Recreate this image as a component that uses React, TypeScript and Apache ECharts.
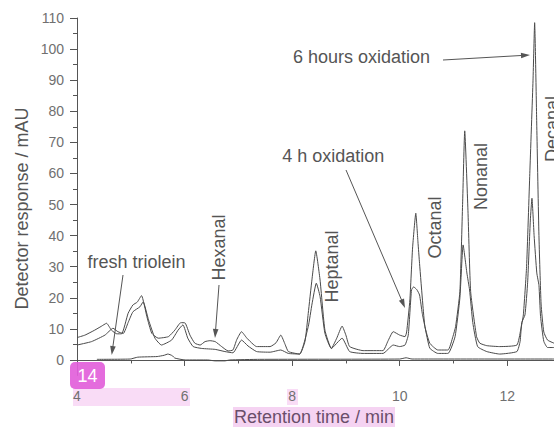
import React, { useEffect, useRef } from "react";
import * as echarts from "echarts";

// ---- data (retention time / min, detector response / mAU) ----
const freshTriolein: [number, number][] = [
  [4.37, 0.2], [4.99, 0.3], [5.13, 0.9], [5.49, 1.1], [5.62, 1.5], [5.69, 1.9], [5.77, 1.4],
  [5.82, 0.6], [6.01, 0.0], [6.43, 0.0], [6.57, -0.3], [6.75, -0.3], [6.84, 0.0], [7.4, 0.2],
  [10.0, 0.3], [10.12, 0.7], [10.23, 0.3], [12.87, 0.3],
];

const oxidation4h: [number, number][] = [
  [4.0, 4.8], [4.27, 5.9], [4.52, 8.0], [4.67, 10.2], [4.76, 9.1], [4.86, 8.5], [4.95, 12.0],
  [5.04, 15.5], [5.17, 17.1], [5.23, 18.7], [5.33, 12.9], [5.45, 7.0], [5.57, 4.8], [5.76, 6.4],
  [5.88, 9.6], [5.97, 11.3], [6.06, 7.0], [6.16, 4.3], [6.32, 3.7], [6.57, 3.4], [6.75, 2.7],
  [6.9, 2.3], [7.06, 6.4], [7.18, 4.5], [7.34, 2.7], [7.59, 2.5], [7.79, 3.2], [7.93, 2.1],
  [8.14, 1.9], [8.3, 10.7], [8.37, 18.0], [8.45, 24.7], [8.52, 20.4], [8.61, 8.6], [8.73, 3.7],
  [8.93, 7.0], [9.07, 2.7], [9.32, 2.1], [9.69, 2.1], [9.88, 4.8], [10.0, 4.3], [10.1, 4.8],
  [10.16, 8.0], [10.22, 22.5], [10.26, 23.5], [10.32, 22.6], [10.37, 20.9], [10.42, 15.0],
  [10.47, 10.7], [10.56, 3.8], [10.71, 2.1], [10.9, 2.1], [11.03, 7.5], [11.12, 20.0],
  [11.18, 37.0], [11.25, 28.0], [11.3, 22.5], [11.36, 12.0], [11.45, 4.3], [11.62, 2.7],
  [11.86, 1.9], [12.18, 2.7], [12.24, 6.0], [12.27, 12.0], [12.33, 14.5], [12.38, 25.0],
  [12.43, 45.0], [12.46, 52.0], [12.5, 40.0], [12.55, 28.0], [12.59, 24.0], [12.62, 14.0],
  [12.68, 6.0], [12.75, 4.0], [12.87, 4.0],
];

const oxidation6h: [number, number][] = [
  [4.0, 7.2], [4.15, 8.0], [4.33, 9.6], [4.45, 10.8], [4.55, 11.8], [4.64, 9.6], [4.74, 8.4],
  [4.83, 8.4], [4.95, 15.0], [5.04, 17.7], [5.12, 18.6], [5.2, 20.7], [5.3, 13.9], [5.39, 8.6],
  [5.51, 7.0], [5.7, 7.5], [5.82, 9.6], [5.93, 12.0], [6.01, 11.9], [6.1, 8.0], [6.19, 5.4],
  [6.29, 4.8], [6.38, 5.9], [6.47, 6.2], [6.57, 5.9], [6.69, 4.3], [6.81, 2.9], [6.9, 3.2],
  [6.97, 6.5], [7.06, 9.1], [7.16, 7.0], [7.34, 4.3], [7.59, 4.3], [7.7, 5.5], [7.79, 8.0],
  [7.87, 5.0], [7.93, 2.7], [8.14, 1.9], [8.24, 6.0], [8.3, 15.0], [8.37, 26.0], [8.44, 35.1],
  [8.52, 25.7], [8.61, 9.6], [8.73, 3.7], [8.83, 7.0], [8.93, 10.9], [9.0, 8.0], [9.07, 4.3],
  [9.32, 3.0], [9.69, 3.0], [9.78, 6.0], [9.88, 9.1], [10.0, 8.0], [10.1, 7.5], [10.13, 9.0],
  [10.19, 19.3], [10.24, 36.0], [10.3, 47.2], [10.34, 38.0], [10.37, 31.0], [10.43, 18.0],
  [10.47, 10.7], [10.56, 5.4], [10.71, 3.2], [10.9, 3.2], [10.99, 7.5], [11.04, 10.7],
  [11.12, 22.0], [11.17, 50.0], [11.21, 73.7], [11.27, 48.0], [11.32, 22.0], [11.43, 7.5],
  [11.49, 5.4], [11.62, 4.6], [11.86, 4.3], [12.18, 4.8], [12.25, 9.6], [12.3, 14.5],
  [12.36, 30.0], [12.42, 60.0], [12.48, 90.0], [12.51, 108.5], [12.55, 75.0], [12.59, 40.0],
  [12.63, 18.0], [12.68, 9.0], [12.75, 6.4], [12.87, 5.4],
];

const xMajorTicks = [4, 6, 8, 10, 12];
const xMinorTicks = [5, 7, 9, 11];
const yMajorTicks = [0, 10, 20, 30, 40, 50, 60, 70, 80, 90, 100, 110];
const yMinorTicks = [5, 15, 25, 35, 45, 55, 65, 75, 85, 95, 105];

const FONT = '"Liberation Sans", Arial, Helvetica, sans-serif';
const INK = "#4a4a4a";
const TXT = "#555555";

function arrow(x1: number, y1: number, x2: number, y2: number) {
  const dx = x2 - x1;
  const dy = y2 - y1;
  const len = Math.sqrt(dx * dx + dy * dy);
  const ux = dx / len;
  const uy = dy / len;
  const L = 9;
  const W = 2.8;
  const bx = x2 - ux * L;
  const by = y2 - uy * L;
  return [
    {
      type: "line",
      shape: { x1, y1, x2: bx + ux * 2, y2: by + uy * 2 },
      style: { stroke: TXT, lineWidth: 1 },
      silent: true,
    },
    {
      type: "polygon",
      shape: {
        points: [
          [x2, y2],
          [bx - uy * W, by + ux * W],
          [bx + uy * W, by - ux * W],
        ],
      },
      style: { fill: TXT },
      silent: true,
    },
  ];
}

function label(text: string, x: number, y: number, vertical = false) {
  return {
    type: "text",
    x,
    y,
    rotation: vertical ? Math.PI / 2 : 0,
    silent: true,
    style: {
      text,
      font: `18px ${FONT}`,
      fill: TXT,
      align: "center",
      verticalAlign: "middle",
    },
  };
}

export default function App() {
  const ref = useRef<HTMLDivElement>(null);

  useEffect(() => {
    if (!ref.current) return;
    const chart = echarts.init(ref.current, undefined, { renderer: "svg" });

    const lineSeries = (name: string, data: [number, number][]) => ({
      name,
      type: "line",
      data,
      showSymbol: false,
      symbol: "none",
      smooth: 0.15,
      lineStyle: { color: INK, width: 1 },
      z: 3,
    });

    const axisLineStyle = { color: "#555", width: 1 };

    chart.setOption({
      animation: false,
      backgroundColor: "#ffffff",
      grid: { left: 77, right: 0, top: 18, bottom: 51.5, containLabel: false },
      xAxis: [
        {
          type: "value",
          min: 4,
          max: 12.87,
          position: "bottom",
          axisLine: { show: true, lineStyle: axisLineStyle },
          axisTick: { show: true, customValues: xMajorTicks, length: 6, lineStyle: axisLineStyle },
          axisLabel: {
            customValues: xMajorTicks,
            fontSize: 14,
            fontFamily: FONT,
            color: (v: number) => (v === 8 ? "#9a62a0" : "#707070"),
            margin: 13,
          },
          splitLine: { show: false },
        },
        {
          type: "value",
          min: 4,
          max: 12.87,
          position: "bottom",
          axisLine: { show: false },
          axisTick: { show: true, customValues: xMinorTicks, length: 3.5, lineStyle: axisLineStyle },
          axisLabel: { show: false },
          splitLine: { show: false },
        },
      ],
      yAxis: [
        {
          type: "value",
          min: -5,
          max: 110,
          position: "left",
          axisLine: { show: true, lineStyle: axisLineStyle },
          axisTick: { show: true, customValues: yMajorTicks, length: 7, lineStyle: axisLineStyle },
          axisLabel: {
            customValues: yMajorTicks,
            fontSize: 14,
            fontFamily: FONT,
            color: "#707070",
            margin: 13,
          },
          splitLine: { show: false },
        },
        {
          type: "value",
          min: -5,
          max: 110,
          position: "left",
          axisLine: { show: false },
          axisTick: { show: true, customValues: yMinorTicks, length: 4, lineStyle: axisLineStyle },
          axisLabel: { show: false },
          splitLine: { show: false },
        },
      ],
      series: [
        lineSeries("fresh triolein", freshTriolein),
        lineSeries("4 h oxidation", oxidation4h),
        lineSeries("6 hours oxidation", oxidation6h),
      ],
      graphic: [
        // highlight boxes (behind text)
        { type: "rect", z: -10, silent: true, shape: { x: 73, y: 388, width: 117, height: 18 }, style: { fill: "#f9dcf6" } },
        { type: "rect", z: -10, silent: true, shape: { x: 287, y: 389, width: 11, height: 16 }, style: { fill: "#f9dcf6" } },
        { type: "rect", z: -10, silent: true, shape: { x: 233, y: 407, width: 162, height: 20 }, style: { fill: "#f5d3f2" } },
        // axis titles
        {
          type: "text",
          x: 314,
          y: 417,
          silent: true,
          style: { text: "Retention time / min", font: `18px ${FONT}`, fill: "#6a4e6a", align: "center", verticalAlign: "middle" },
        },
        {
          type: "text",
          x: 22,
          y: 208.5,
          rotation: Math.PI / 2,
          silent: true,
          style: { text: "Detector response / mAU", font: `18px ${FONT}`, fill: TXT, align: "center", verticalAlign: "middle" },
        },
        // annotations
        label("fresh triolein", 136.5, 262),
        ...arrow(123, 275, 111.7, 355),
        label("Hexanal", 219, 247.5, true),
        ...arrow(219, 285, 215, 338),
        label("Heptanal", 332, 266.5, true),
        label("Octanal", 435, 227.5, true),
        label("Nonanal", 480.5, 176.5, true),
        label("Decanal", 552, 129, true),
        label("4 h oxidation", 333.3, 155.5),
        ...arrow(346, 170, 405, 308),
        label("6 hours oxidation", 361.5, 57),
        ...arrow(443, 60, 530, 55),
        // page badge
        {
          type: "rect",
          z: 50,
          silent: true,
          shape: { x: 70, y: 362, width: 35, height: 27, r: 5 },
          style: { fill: "rgba(226, 96, 218, 0.92)" },
        },
        {
          type: "text",
          z: 51,
          x: 87.5,
          y: 376,
          silent: true,
          style: { text: "14", font: `18px ${FONT}`, fill: "#ffffff", align: "center", verticalAlign: "middle" },
        },
      ],
    });

    return () => chart.dispose();
  }, []);

  return (
    <div
      ref={ref}
      style={{ position: "fixed", left: 0, top: 0, width: 554, height: 427, background: "#fff" }}
    />
  );
}
